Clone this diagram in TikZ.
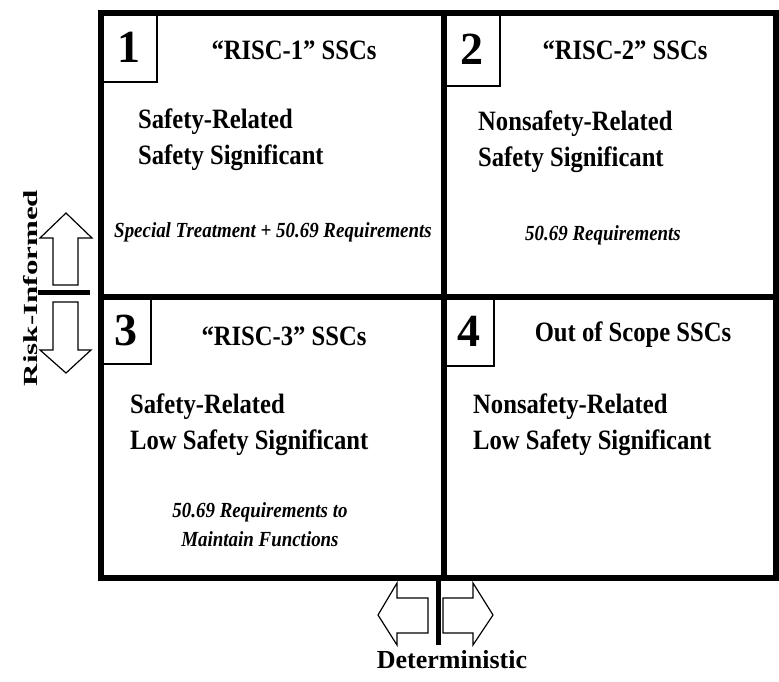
\documentclass[tikz,border=0pt]{standalone}
\usepackage{fontspec}
\setmainfont{Liberation Serif}
\usepackage{graphicx}
\usepackage{tikz}
\usetikzlibrary{arrows.meta}

\newcommand{\cond}[1]{\scalebox{0.88}[1]{#1}}

\tikzset{
    frame/.style={line width=6pt},
    numbox/.style={draw, line width=1.5pt, anchor=north west, inner sep=0pt,
        font=\fontsize{46}{46}\selectfont\bfseries},
    titletext/.style={font=\fontsize{28}{30}\selectfont\bfseries},
    bodytext/.style={font=\fontsize{28}{36}\selectfont\bfseries, align=left, anchor=west, inner sep=0pt},
    notetext/.style={font=\fontsize{21.5}{29}\selectfont\bfseries\itshape, align=center},
    hollow/.style={draw, line width=1.2pt, line join=miter},
    axistext/.style={font=\fontsize{26}{26}\selectfont\bfseries}
}

\begin{document}
\begin{tikzpicture}[x=1pt, y=-1pt]
    \useasboundingbox (0,0) rectangle (779,681);

    % Grid
    \draw[frame] (101,13) rectangle (776,578);
    \draw[frame] (444,13) -- (444,578);
    \draw[frame] (101,297) -- (776,297);

    % Quadrant 1
    \node[numbox, minimum width=55, minimum height=68] (n1) at (101,13) {1};
    \node[titletext] (t1) at (294,50) {\cond{“RISC-1” SSCs}};
    \node[bodytext] (b1) at (138,140) {\cond{Safety-Related}\\\cond{Safety Significant}};
    \node[notetext] (s1) at (273,232) {\cond{Special Treatment + 50.69 Requirements}};

    % Quadrant 2
    \node[numbox, minimum width=55, minimum height=72] (n2) at (444,13) {2};
    \node[titletext] (t2) at (625,50) {\cond{“RISC-2” SSCs}};
    \node[bodytext] (b2) at (478,142) {\cond{Nonsafety-Related}\\\cond{Safety Significant}};
    \node[notetext] (s2) at (603,235) {\cond{50.69 Requirements}};

    % Quadrant 3
    \node[numbox, minimum width=49, minimum height=66] (n3) at (101,297) {3};
    \node[titletext] (t3) at (284,336) {\cond{“RISC-3” SSCs}};
    \node[bodytext] (b3) at (130,425) {\cond{Safety-Related}\\\cond{Low Safety Significant}};
    \node[notetext] (s3) at (260,525) {\cond{50.69 Requirements to}\\\cond{Maintain Functions}};

    % Quadrant 4
    \node[numbox, minimum width=49, minimum height=68] (n4) at (444,297) {4};
    \node[titletext] (t4) at (633,335) {\cond{Out of Scope SSCs}};
    \node[bodytext] (b4) at (473,425) {\cond{Nonsafety-Related}\\\cond{Low Safety Significant}};

    % Risk-Informed arrows
    \draw[hollow] (53,285) -- (53,238) -- (40,238) -- (66,213) -- (92,238) -- (78,238) -- (78,285) -- cycle;
    \draw[line width=5pt] (38,292) -- (90,292);
    \draw[hollow] (53,302) -- (78,302) -- (78,350) -- (91,350) -- (66,373) -- (40,350) -- (53,350) -- cycle;
    \node[font=\fontsize{20}{20}\selectfont\bfseries, rotate=90, inner sep=0pt] (risk) at (31,288) {\scalebox{1.55}[1]{Risk-Informed}};

    % Deterministic arrows
    \draw[line width=5pt] (438,578) -- (438,645);
    \draw[hollow] (428,598) -- (397,598) -- (397,583) -- (378,615) -- (397,645) -- (397,633) -- (428,633) -- cycle;
    \draw[hollow] (443,598) -- (473,598) -- (473,583) -- (493,615) -- (473,645) -- (473,633) -- (443,633) -- cycle;
    \node[axistext] (det) at (452,660) {Deterministic};
\end{tikzpicture}
\end{document}
